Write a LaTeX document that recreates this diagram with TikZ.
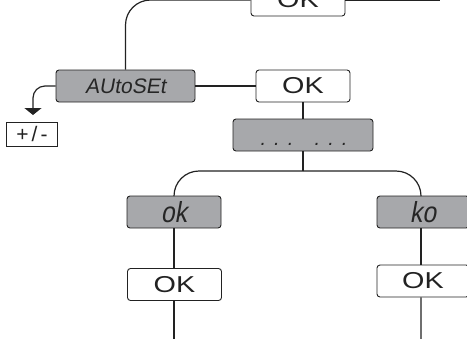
\documentclass[tikz,border=0pt]{standalone}
\usepackage{fontspec}
\setmainfont{Liberation Sans}
\newfontfamily\okfont{Liberation Sans}[FakeStretch=1.25]
\newfontfamily\segfont{Liberation Sans}[FakeSlant=0.18]
\newfontfamily\segnarrow{Liberation Sans}[FakeSlant=0.18,FakeStretch=0.85]
\usetikzlibrary{arrows.meta}
\definecolor{boxgray}{HTML}{A7A8AB}
\definecolor{ink}{HTML}{222222}
\begin{document}
\begin{tikzpicture}[x=1bp,y=-1bp,
  wbox/.style={draw=ink, line width=0.9bp, fill=white, rounded corners=3bp,
    minimum width=94bp, minimum height=32bp, inner sep=0pt,
    font=\okfont\fontsize{23bp}{25bp}\selectfont, text=ink},
  gbox/.style={wbox, fill=boxgray, font=\segfont\fontsize{21bp}{23bp}\selectfont, text=black!85},
  okgbox/.style={gbox, font=\segnarrow\fontsize{29bp}{31bp}\selectfont},
  pmbox/.style={draw=ink, line width=0.9bp, fill=white, minimum width=51bp, minimum height=24bp,
    inner sep=0pt, font=\fontsize{21bp}{23bp}\selectfont, text=ink},
  conn/.style={draw=ink, line width=1.2bp}]
\clip (0,0) rectangle (467,338);
% nodes
\node[wbox] (topok) at (298,0) {OK};
\node[gbox, minimum width=139bp] (autoset) at (125.5,86) {AUtoSEt};
\node[wbox] (ok1) at (303,86) {OK};
\node[gbox, minimum width=140bp] (dots) at (303,135)
  {\fontsize{20bp}{22bp}\selectfont\rule{0pt}{20bp}.\hspace{8bp}.\hspace{8bp}.\hspace{21.4bp}.\hspace{8bp}.\hspace{8bp}.};
\node[okgbox] (okd) at (174,212) {ok};
\node[okgbox, minimum width=92bp] (kod) at (423,212) {ko};
\node[wbox] (okL) at (174.5,284.5) {OK};
\node[wbox, minimum width=92bp] (okR) at (423,281) {OK};
\node[pmbox] (pm) at (32,134) {+\hspace{3bp}/\hspace{3bp}-};
% free ends
\coordinate (topright) at (440,0);
\coordinate (br) at (303,171);
\coordinate (arrowend) at (33,115);
\coordinate (botL) at (174,340);
\coordinate (botR) at (421,340);
% connectors
\draw[conn] (topok.east) -- (topright);
\draw[conn, rounded corners=25bp] (topok.west) -| (autoset.north);
\draw[conn] (autoset.east) -- (ok1.west);
\draw[conn] (ok1.south) -- (dots.north);
\draw[conn] (dots.south) -- (br);
\draw[conn, rounded corners=25bp] (br) -| (okd.north);
\draw[conn, rounded corners=25bp] (br) -| ([xshift=-2bp]kod.north);
\draw[conn] (okd.south) -- (okd.south |- okL.north);
\draw[conn] ([xshift=-2bp]kod.south) -- ([xshift=-2bp]okR.north);
\draw[conn] (okd.south |- okL.south) -- (botL);
\draw[conn] ([xshift=-2bp]okR.south) -- (botR);
\draw[conn, rounded corners=12bp, -{Triangle[width=17bp,length=7bp]}] (autoset.west) -| (arrowend);
\end{tikzpicture}
\end{document}
